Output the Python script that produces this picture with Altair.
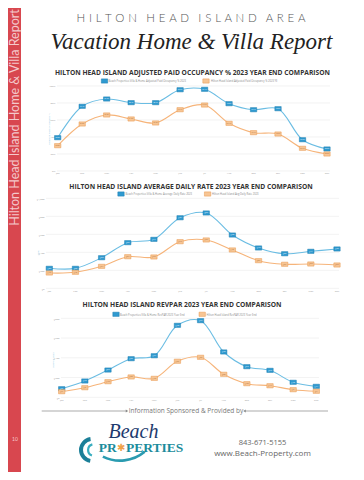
import altair as alt
import pandas as pd

# ---------------- data ----------------
months = ["Jan", "Feb", "Mar", "Apr", "May", "Jun", "Jul", "Aug", "Sep", "Oct", "Nov", "Dec"]

occ_bp = [39.2, 76.1, 84.7, 80.4, 80.4, 95.6, 96.1, 79.2, 72.1, 73.3, 36.8, 25.9]
occ_hhi = [29.8, 55.3, 65.9, 61.2, 56.5, 72.1, 77.6, 56.1, 45.1, 43.5, 26.7, 20.0]

adr_bp = [222, 222, 340, 507, 544, 784, 837, 592, 448, 384, 411, 437]
adr_hhi = [170, 178, 244, 351, 348, 518, 537, 426, 307, 267, 270, 259]

rev_bp = [87, 165, 276, 391, 421, 729, 776, 459, 310, 273, 152, 111]
rev_hhi = [57, 97, 158, 206, 192, 365, 405, 233, 138, 117, 77, 61]

occ_names = ["Beach Properties Villa & Home Adjusted Paid Occupancy % 2023",
             "Hilton Head Island Adjusted Paid Occupancy % 2023 YE"]
adr_names = ["Beach Properties Villa & Home Average Daily Rate 2023",
             "Hilton Head Island Avg Daily Rate 2023"]
rev_names = ["Beach Properties Villa & Home RevPAR 2023 Year End",
             "Hilton Head Island RevPAR 2023 Year End"]

occ_ticks = [0, 20, 40, 60, 80, 100]
occ_tick_labels = ["0%", "20%", "40%", "60%", "80%", "100%"]
adr_ticks = [0, 200, 400, 600, 800, 1000]
adr_tick_labels = ["$0", "$200", "$400", "$600", "$800", "$1,000"]
rev_ticks = [0, 200, 400, 600, 800]
rev_tick_labels = ["$0", "$200", "$400", "$600", "$800"]

# ---------------- style ----------------
W, H = 348, 464
LINE_B, LINE_O = "#6bbde3", "#f6b47a"
BOX_B, BOX_O = "#2f9ad0", "#f7c594"
BOXS_B, BOXS_O = "#1f7fb0", "#e8984f"
RED = "#d8474f"
BOX = "M-1.5,-1L1.5,-1L1.5,1L-1.5,1Z"

one = pd.DataFrame({"k": [0]})


def txt(s, x, y, size, color="#333333", font="Open Sans", weight="normal", style="normal",
        align="center", angle=0, baseline="middle"):
    m = alt.Chart(one).mark_text(text=s, fontSize=size, color=color, font=font, fontWeight=weight,
                                 fontStyle=style, align=align, baseline=baseline, angle=angle)
    return m.encode(x=alt.value(x), y=alt.value(y))


def swatch(x, y, fill, stroke):
    return alt.Chart(one).mark_point(shape=BOX, filled=True, size=18, strokeWidth=0.5, opacity=1,
                                     fill=fill, stroke=stroke).encode(x=alt.value(x), y=alt.value(y))


def panel(va, vb, names, fmt, ydom, ticks, tlabels, yr, xr, gx, ylx, ytitle, ytxy, xly, leg):
    df = pd.DataFrame({
        "month": months * 2,
        "value": va + vb,
        "series": [names[0]] * 12 + [names[1]] * 12,
    })
    df["label"] = [fmt(v) for v in df["value"]]
    xs = alt.Scale(type="point", domain=months, range=list(xr), padding=0)
    ys = alt.Scale(domain=list(ydom), range=list(yr), nice=False, zero=False)
    X = alt.X("month:N", scale=xs, axis=None)
    Y = alt.Y("value:Q", scale=ys, axis=None)
    tdf = pd.DataFrame({"value": ticks, "lab": tlabels})
    grid = alt.Chart(tdf).mark_rule(color="#e9e9e9", strokeWidth=0.6).encode(
        y=Y, x=alt.value(gx[0]), x2=alt.value(gx[1]))
    ylab = alt.Chart(tdf).mark_text(align="right", baseline="middle", fontSize=2.5,
                                     color="#999999", font="Open Sans").encode(
        y=Y, x=alt.value(ylx), text="lab:N")
    ytit = txt(ytitle, ytxy[0], ytxy[1], 2.5, color="#7fc4e6", angle=270)
    xlab = alt.Chart(pd.DataFrame({"month": months})).mark_text(
        fontSize=2.5, color="#999999", baseline="top", font="Open Sans").encode(
        x=X, y=alt.value(xly), text="month:N")
    lines = alt.Chart(df).mark_line(interpolate="catmull-rom", strokeWidth=1.1).encode(
        x=X, y=Y,
        color=alt.Color("series:N", scale=alt.Scale(domain=names, range=[LINE_B, LINE_O]), legend=None))
    boxes = alt.Chart(df).mark_point(shape=BOX, filled=True, size=18, strokeWidth=0.5, opacity=1).encode(
        x=X, y=Y,
        fill=alt.Fill("series:N", scale=alt.Scale(domain=names, range=[BOX_B, BOX_O]), legend=None),
        stroke=alt.Stroke("series:N", scale=alt.Scale(domain=names, range=[BOXS_B, BOXS_O]), legend=None))
    tb = alt.Chart(df).transform_filter(alt.datum.series == names[0]).mark_text(
        fontSize=1.6, color="white", font="Open Sans").encode(x=X, y=Y, text="label:N")
    to = alt.Chart(df).transform_filter(alt.datum.series == names[1]).mark_text(
        fontSize=1.6, color="#a9652c", font="Open Sans").encode(x=X, y=Y, text="label:N")
    # legend
    (bx, ly, tbx, ox, tox) = leg
    l1 = swatch(bx, ly, BOX_B, BOXS_B)
    l2 = txt(names[0], tbx, ly, 2.6, color="#8a8a8a", align="left")
    l3 = swatch(ox, ly, BOX_O, BOXS_O)
    l4 = txt(names[1], tox, ly, 2.6, color="#8a8a8a", align="left")
    return alt.layer(grid, ylab, ytit, xlab, lines, boxes, tb, to, l1, l2, l3, l4)


p1 = panel(occ_bp, occ_hhi, occ_names, lambda v: f"{v:.1f}%", (0, 100), occ_ticks, occ_tick_labels,
           (163, 78), (49.7, 319), (49, 322), 47.5, "Adjusted Paid Occupancy %", (41, 121), 163.5,
           (96.5, 73, 100.5, 198, 203))
p2 = panel(adr_bp, adr_hhi, adr_names, lambda v: f"${v:,.0f}", (0, 1000), adr_ticks, adr_tick_labels,
           (280.3, 190.3), (41.3, 329), (38, 331), 36.5, "ADR", (30, 245), 282,
           (113, 186, 117.5, 199.6, 204))
p3 = panel(rev_bp, rev_hhi, rev_names, lambda v: f"${v:,.0f}", (0, 800), rev_ticks, rev_tick_labels,
           (389.3, 310.3), (53.7, 308.3), (53, 311), 51.5, "RevPAR 2023", (45, 352), 390.5,
           (108, 306.3, 112, 194.2, 198.5))

sidebar = alt.Chart(one).mark_rect(color=RED).encode(
    x=alt.value(0), x2=alt.value(13), y=alt.value(0), y2=alt.value(H))
side_text = txt("Hilton Head Island Home & Villa Report", 6.5, 109.5, 12.5, color="#f4c9cc",
                font="Lato", angle=270)
page_no = txt("10", 7, 431, 5, color="#f4c9cc", font="Lato")

S = " \u200a"
G = "\u00a0\u00a0\u00a0"
head_str = G.join(S.join(list(w)) for w in ["HILTON", "HEAD", "ISLAND", "AREA"])
head1 = txt(head_str, 183, 11, 11.5, color="#555555", font="Lato", weight=300)
head2 = txt("Vacation Home & Villa Report", 183.5, 34, 23, color="#222222",
            font="Liberation Serif", style="italic")

t1 = txt("HILTON HEAD ISLAND ADJUSTED PAID OCCUPANCY % 2023 YEAR END COMPARISON", 184.5, 65, 6.7,
         color="#333333", weight="bold")
t2 = txt("HILTON HEAD ISLAND AVERAGE DAILY RATE 2023 YEAR END COMPARISON", 183, 179, 6.7,
         color="#333333", weight="bold")
t3 = txt("HILTON HEAD ISLAND REVPAR 2023 YEAR END COMPARISON", 174, 297, 6.7,
         color="#333333", weight="bold")

# footer
foot_text = txt("Information Sponsored & Provided by", 178, 403, 6.5, color="#777777")
rule_l = alt.Chart(one).mark_rule(color="#888888", strokeWidth=0.7).encode(
    x=alt.value(33.7), x2=alt.value(118.7), y=alt.value(403))
rule_r = alt.Chart(one).mark_rule(color="#888888", strokeWidth=0.7).encode(
    x=alt.value(237), x2=alt.value(320), y=alt.value(403))
arr_l = alt.Chart(one).mark_point(shape="triangle-right", filled=True, size=8, color="#888888",
                                  opacity=1).encode(x=alt.value(119), y=alt.value(403))
arr_r = alt.Chart(one).mark_point(shape="triangle-left", filled=True, size=8, color="#888888",
                                  opacity=1).encode(x=alt.value(236.5), y=alt.value(403))

beach = txt("Beach", 125.5, 424, 20, color="#1d3a6e", font="Liberation Serif", style="italic")
pr = txt("PR", 108.7, 440, 13.5, color="#1b8c9c", font="Liberation Serif", weight="bold", align="right")
star = txt("\u2731", 113.3, 440, 10, color="#f0a24a", font="DejaVu Sans")
perties = txt("PERTIES", 118, 440, 13.5, color="#1b8c9c", font="Liberation Serif", weight="bold",
              align="left")
wave1 = alt.Chart(one).mark_arc(theta=3.3, theta2=6.15, radius=13, radius2=9, color="#1b7f98").encode(
    x=alt.value(84), y=alt.value(442))
wave2 = alt.Chart(one).mark_arc(theta=3.5, theta2=6.0, radius=7, radius2=4.8, color="#39aec0").encode(
    x=alt.value(86), y=alt.value(442))
wave3 = alt.Chart(one).mark_arc(theta=2.45, theta2=3.6, radius=40, radius2=37.3, color="#2a9bb0").encode(
    x=alt.value(112), y=alt.value(414))
phone = txt("843-671-5155", 254.5, 434.7, 7.5, color="#666666")
url = txt("www.Beach-Property.com", 254.5, 446, 8, color="#666666")

chart = alt.layer(
    sidebar, side_text, page_no, head1, head2, t1, t2, t3,
    p1, p2, p3,
    foot_text, rule_l, rule_r, arr_l, arr_r,
    wave3, wave1, wave2, beach, pr, star, perties, phone, url,
).resolve_scale(
    x="independent", y="independent", color="independent", fill="independent", stroke="independent"
).properties(
    width=W, height=H, autosize=alt.AutoSizeParams(type="none"), padding=0
).configure_view(strokeWidth=0)

chart.save("out.html", embed_options={"renderer": "svg", "actions": False})
